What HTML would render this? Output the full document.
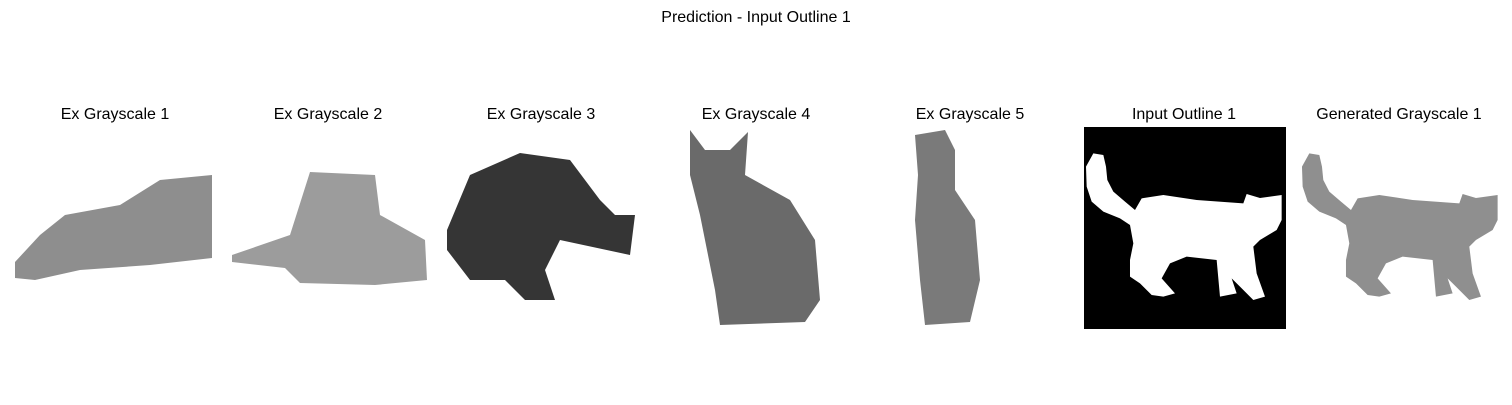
<!DOCTYPE html>
<html><head><meta charset="utf-8"><style>
body{margin:0;background:#fff;}
svg text{font-family:"Liberation Sans","DejaVu Sans",sans-serif;fill:#000;}
</style></head><body>
<svg width="1512" height="400" viewBox="0 0 1512 400">
<text x="756" y="22" font-size="16" text-anchor="middle">Prediction - Input Outline 1</text>
<g font-size="16" text-anchor="middle">
<text x="115" y="119">Ex Grayscale 1</text>
<text x="328" y="119">Ex Grayscale 2</text>
<text x="541" y="119">Ex Grayscale 3</text>
<text x="756" y="119">Ex Grayscale 4</text>
<text x="970" y="119">Ex Grayscale 5</text>
<text x="1184" y="119">Input Outline 1</text>
<text x="1399" y="119">Generated Grayscale 1</text>
</g>
<polygon fill="#8e8e8e" points="15,262 40,235 65,215 120,205 160,180 212,175 212,258 150,265 80,270 35,280 15,278"/>
<polygon fill="#9c9c9c" points="232,255 290,235 310,172 375,175 380,215 425,240 427,280 375,285 300,283 285,268 232,262"/>
<polygon fill="#353535" points="447,230 470,175 520,153 570,160 600,200 615,215 635,215 630,255 560,240 545,270 555,300 525,300 505,280 470,280 447,250"/>
<polygon fill="#6a6a6a" points="690,130 705,150 730,150 748,132 745,175 790,200 815,240 820,300 805,322 720,325 715,290 700,215 690,175"/>
<polygon fill="#7a7a7a" points="915,135 945,130 955,150 955,190 975,220 980,280 970,322 925,325 920,280 915,220 918,175"/>
<rect x="1084" y="127" width="202" height="202" fill="#000"/>
<g transform="translate(1080,120) scale(0.3333)">
<path fill="#fff" d="M40,100 L70,105 78,140 82,180 100,215 135,245 165,270 185,235 250,225 350,240 490,250 500,222 540,234 605,225 605,300 590,330 540,360 520,380 530,460 555,530 520,540 480,500 455,475 470,520 420,530 410,420 320,410 270,430 245,475 285,520 250,530 215,525 180,490 150,470 150,420 160,370 150,315 120,295 70,275 35,245 20,200 18,140 Z"/>
<path fill="#8f8f8f" transform="translate(648,0)" d="M40,100 L70,105 78,140 82,180 100,215 135,245 165,270 185,235 250,225 350,240 490,250 500,222 540,234 605,225 605,300 590,330 540,360 520,380 530,460 555,530 520,540 480,500 455,475 470,520 420,530 410,420 320,410 270,430 245,475 285,520 250,530 215,525 180,490 150,470 150,420 160,370 150,315 120,295 70,275 35,245 20,200 18,140 Z"/>
</g>
</svg>
</body></html>
